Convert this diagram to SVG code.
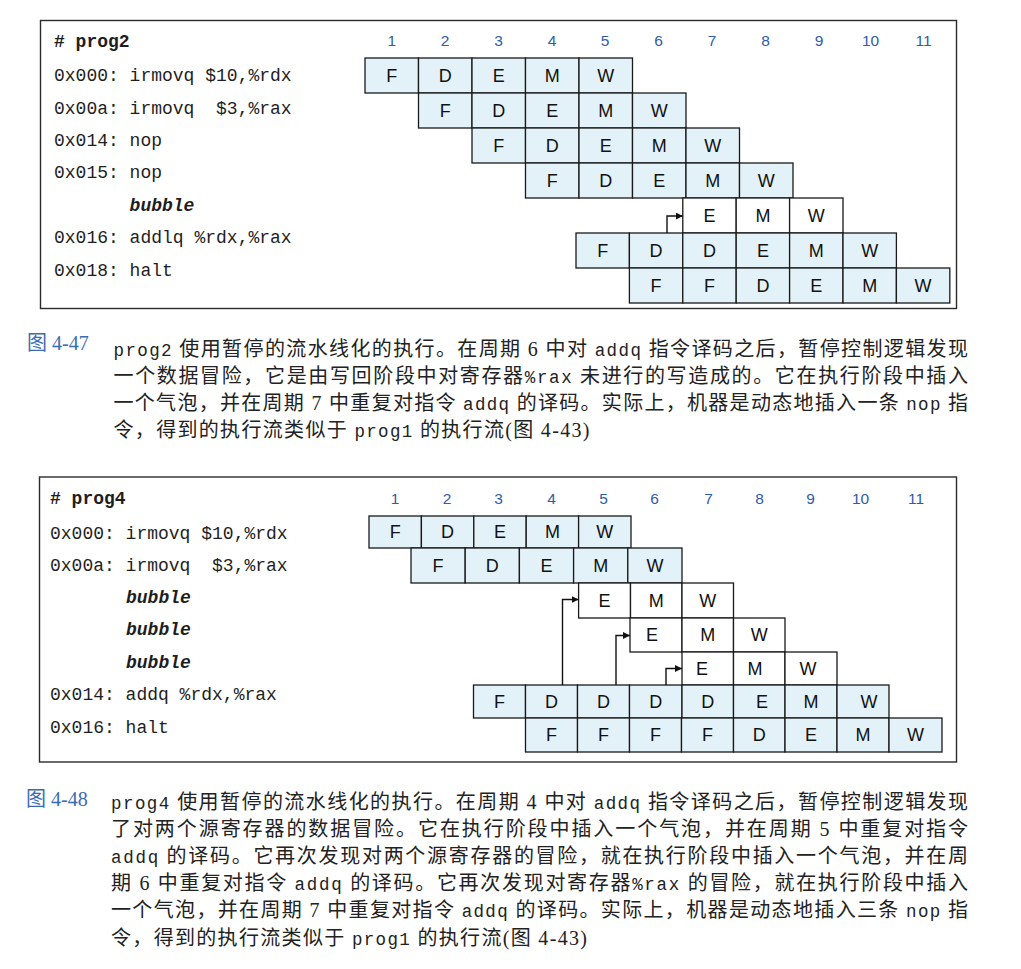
<svg xmlns="http://www.w3.org/2000/svg" width="1021" height="969" viewBox="0 0 1021 969">
<style>
.frame{fill:none;stroke:#2b2b2b;stroke-width:1.4}
.c{fill:#e3f1f8;stroke:#1a1a1a;stroke-width:1.3}
.b{fill:#ffffff;stroke:#1a1a1a;stroke-width:1.3}
.lt{font-family:"Liberation Sans",Arial,sans-serif;font-size:18px;fill:#111;text-anchor:middle}
.num{font-family:"Liberation Sans",Arial,sans-serif;font-size:15.5px;fill:#2f5ca8;text-anchor:middle}
.code{font-family:"Liberation Mono","DejaVu Sans Mono",monospace;font-size:18px;fill:#1e1e1e;white-space:pre}
.bold{font-weight:bold}
.bi{font-weight:bold;font-style:italic}
.cap{font-family:"Liberation Serif","Noto Sans CJK SC",serif;font-size:20px;fill:#222}
.m{font-family:"Liberation Mono","Noto Sans CJK SC",monospace;font-size:17.5px}
.lab{font-family:"Liberation Serif","Noto Sans CJK SC",serif;font-size:20px;fill:#3a6cb3}
.conn{fill:none;stroke:#111;stroke-width:1.4}
</style>
<defs>
<marker id="ah" markerUnits="userSpaceOnUse" markerWidth="8" markerHeight="7" refX="7" refY="3.5" orient="auto">
<path d="M0,0 L7,3.5 L0,7 z" fill="#111"/>
</marker>
</defs>
<rect width="1021" height="969" fill="#ffffff"/>

<!-- ============ Figure 4-47 ============ -->
<rect class="frame" x="40.5" y="20.5" width="916" height="288"/>
<g id="p2-code">
<text class="code bold" x="54" y="47"># prog2</text>
<text class="code" x="54" y="81">0x000: irmovq $10,%rdx</text>
<text class="code" x="54" y="113.5">0x00a: irmovq  $3,%rax</text>
<text class="code" x="54" y="146">0x014: nop</text>
<text class="code" x="54" y="178">0x015: nop</text>
<text class="code bi" x="129.6" y="210.5">bubble</text>
<text class="code" x="54" y="243">0x016: addlq %rdx,%rax</text>
<text class="code" x="54" y="275.5">0x018: halt</text>
</g>
<g id="p2-cycles">
<text class="num" x="391.7" y="46">1</text>
<text class="num" x="445" y="46">2</text>
<text class="num" x="498.5" y="46">3</text>
<text class="num" x="552" y="46">4</text>
<text class="num" x="605" y="46">5</text>
<text class="num" x="658.5" y="46">6</text>
<text class="num" x="712" y="46">7</text>
<text class="num" x="765.5" y="46">8</text>
<text class="num" x="819" y="46">9</text>
<text class="num" x="870.5" y="46">10</text>
<text class="num" x="923.5" y="46">11</text>
</g>
<g id="p2-r1">
<rect class="c" x="365" y="58" width="53.5" height="35"/><rect class="c" x="418.5" y="58" width="53.5" height="35"/><rect class="c" x="472" y="58" width="53.5" height="35"/><rect class="c" x="525.5" y="58" width="53.5" height="35"/><rect class="c" x="579" y="58" width="53.5" height="35"/>
<text class="lt" x="391.75" y="81.9">F</text><text class="lt" x="445.25" y="81.9">D</text><text class="lt" x="498.75" y="81.9">E</text><text class="lt" x="552.25" y="81.9">M</text><text class="lt" x="605.75" y="81.9">W</text>
</g>
<g id="p2-r2">
<rect class="c" x="418.5" y="93" width="53.5" height="35"/><rect class="c" x="472" y="93" width="53.5" height="35"/><rect class="c" x="525.5" y="93" width="53.5" height="35"/><rect class="c" x="579" y="93" width="53.5" height="35"/><rect class="c" x="632.5" y="93" width="53.5" height="35"/>
<text class="lt" x="445.25" y="116.9">F</text><text class="lt" x="498.75" y="116.9">D</text><text class="lt" x="552.25" y="116.9">E</text><text class="lt" x="605.75" y="116.9">M</text><text class="lt" x="659.25" y="116.9">W</text>
</g>
<g id="p2-r3">
<rect class="c" x="472" y="128" width="53.5" height="35"/><rect class="c" x="525.5" y="128" width="53.5" height="35"/><rect class="c" x="579" y="128" width="53.5" height="35"/><rect class="c" x="632.5" y="128" width="53.5" height="35"/><rect class="c" x="686" y="128" width="53.5" height="35"/>
<text class="lt" x="498.75" y="151.9">F</text><text class="lt" x="552.25" y="151.9">D</text><text class="lt" x="605.75" y="151.9">E</text><text class="lt" x="659.25" y="151.9">M</text><text class="lt" x="712.75" y="151.9">W</text>
</g>
<g id="p2-r4">
<rect class="c" x="525.5" y="163" width="53.5" height="35"/><rect class="c" x="579" y="163" width="53.5" height="35"/><rect class="c" x="632.5" y="163" width="53.5" height="35"/><rect class="c" x="686" y="163" width="53.5" height="35"/><rect class="c" x="739.5" y="163" width="53.5" height="35"/>
<text class="lt" x="552.25" y="186.9">F</text><text class="lt" x="605.75" y="186.9">D</text><text class="lt" x="659.25" y="186.9">E</text><text class="lt" x="712.75" y="186.9">M</text><text class="lt" x="766.25" y="186.9">W</text>
</g>
<g id="p2-bubble">
<rect class="b" x="682.8" y="198" width="53.4" height="35"/><rect class="b" x="736.2" y="198" width="53.4" height="35"/><rect class="b" x="789.6" y="198" width="53.4" height="35"/>
<text class="lt" x="709.5" y="221.9">E</text><text class="lt" x="762.9" y="221.9">M</text><text class="lt" x="816.3" y="221.9">W</text>
</g>
<g id="p2-addq">
<rect class="c" x="576" y="233" width="53.4" height="35"/><rect class="c" x="629.4" y="233" width="53.4" height="35"/><rect class="c" x="682.8" y="233" width="53.4" height="35"/><rect class="c" x="736.2" y="233" width="53.4" height="35"/><rect class="c" x="789.6" y="233" width="53.4" height="35"/><rect class="c" x="843" y="233" width="53.4" height="35"/>
<text class="lt" x="602.7" y="256.9">F</text><text class="lt" x="656.1" y="256.9">D</text><text class="lt" x="709.5" y="256.9">D</text><text class="lt" x="762.9" y="256.9">E</text><text class="lt" x="816.3" y="256.9">M</text><text class="lt" x="869.7" y="256.9">W</text>
</g>
<g id="p2-halt">
<rect class="c" x="629.4" y="268" width="53.4" height="35"/><rect class="c" x="682.8" y="268" width="53.4" height="35"/><rect class="c" x="736.2" y="268" width="53.4" height="35"/><rect class="c" x="789.6" y="268" width="53.4" height="35"/><rect class="c" x="843" y="268" width="53.4" height="35"/><rect class="c" x="896.4" y="268" width="53.4" height="35"/>
<text class="lt" x="656.1" y="291.9">F</text><text class="lt" x="709.5" y="291.9">F</text><text class="lt" x="762.9" y="291.9">D</text><text class="lt" x="816.3" y="291.9">E</text><text class="lt" x="869.7" y="291.9">M</text><text class="lt" x="923.1" y="291.9">W</text>
</g>

<!-- caption 4-47 -->
<g id="cap1">
<text class="lab" x="27" y="350">图 4-47</text>
<text class="cap" x="113.5" y="356" textLength="854.5" lengthAdjust="spacing"><tspan class="m">prog2</tspan> 使用暂停的流水线化的执行。在周期 6 中对 <tspan class="m">addq</tspan> 指令译码之后，暂停控制逻辑发现</text>
<text class="cap" x="113.5" y="383" textLength="854.5" lengthAdjust="spacing">一个数据冒险，它是由写回阶段中对寄存器<tspan class="m">%rax</tspan> 未进行的写造成的。它在执行阶段中插入</text>
<text class="cap" x="113.5" y="410" textLength="854.5" lengthAdjust="spacing">一个气泡，并在周期 7 中重复对指令 <tspan class="m">addq</tspan> 的译码。实际上，机器是动态地插入一条 <tspan class="m">nop</tspan> 指</text>
<text class="cap" x="113.5" y="437" textLength="476" lengthAdjust="spacing">令，得到的执行流类似于 <tspan class="m">prog1</tspan> 的执行流(图 4-43)</text>
</g>

<!-- ============ Figure 4-48 ============ -->
<rect class="frame" x="39.5" y="477" width="917" height="285"/>
<g id="p4-code">
<text class="code bold" x="50" y="503.5"># prog4</text>
<text class="code" x="50" y="538.5">0x000: irmovq $10,%rdx</text>
<text class="code" x="50" y="570.5">0x00a: irmovq  $3,%rax</text>
<text class="code bi" x="126" y="603">bubble</text>
<text class="code bi" x="126" y="635">bubble</text>
<text class="code bi" x="126" y="667.5">bubble</text>
<text class="code" x="50" y="700">0x014: addq %rdx,%rax</text>
<text class="code" x="50" y="732.5">0x016: halt</text>
</g>
<g id="p4-cycles">
<text class="num" x="395" y="503.5">1</text>
<text class="num" x="447" y="503.5">2</text>
<text class="num" x="498.5" y="503.5">3</text>
<text class="num" x="551.5" y="503.5">4</text>
<text class="num" x="603.5" y="503.5">5</text>
<text class="num" x="654.5" y="503.5">6</text>
<text class="num" x="708.5" y="503.5">7</text>
<text class="num" x="759.5" y="503.5">8</text>
<text class="num" x="810.5" y="503.5">9</text>
<text class="num" x="860.5" y="503.5">10</text>
<text class="num" x="916" y="503.5">11</text>
</g>
<g id="p4-r1">
<rect class="c" x="369" y="516" width="52.4" height="32"/><rect class="c" x="421.4" y="516" width="52.4" height="32"/><rect class="c" x="473.8" y="516" width="52.4" height="32"/><rect class="c" x="526.2" y="516" width="52.4" height="32"/><rect class="c" x="578.6" y="516" width="52.4" height="32"/>
<text class="lt" x="395.2" y="538.3">F</text><text class="lt" x="447.6" y="538.3">D</text><text class="lt" x="500" y="538.3">E</text><text class="lt" x="552.4" y="538.3">M</text><text class="lt" x="604.8" y="538.3">W</text>
</g>
<g id="p4-r2">
<rect class="c" x="411" y="548" width="54.2" height="35"/><rect class="c" x="465.2" y="548" width="54.2" height="35"/><rect class="c" x="519.4" y="548" width="54.2" height="35"/><rect class="c" x="573.6" y="548" width="54.2" height="35"/><rect class="c" x="627.8" y="548" width="54.2" height="35"/>
<text class="lt" x="438.1" y="571.9">F</text><text class="lt" x="492.3" y="571.9">D</text><text class="lt" x="546.5" y="571.9">E</text><text class="lt" x="600.7" y="571.9">M</text><text class="lt" x="654.9" y="571.9">W</text>
</g>
<g id="p4-bubble1">
<rect class="b" x="578.6" y="583" width="51.9" height="35"/><rect class="b" x="630.5" y="583" width="51.5" height="35"/><rect class="b" x="682" y="583" width="51.5" height="35"/>
<text class="lt" x="604.5" y="606.9">E</text><text class="lt" x="656.2" y="606.9">M</text><text class="lt" x="707.8" y="606.9">W</text>
</g>
<g id="p4-bubble2">
<rect class="b" x="630" y="618" width="52" height="34"/><rect class="b" x="682" y="618" width="51.5" height="34"/><rect class="b" x="733.5" y="618" width="51.5" height="34"/>
<text class="lt" x="652" y="641.4">E</text><text class="lt" x="707.8" y="641.4">M</text><text class="lt" x="759.3" y="641.4">W</text>
</g>
<g id="p4-bubble3">
<rect class="b" x="682" y="652" width="51.5" height="33"/><rect class="b" x="733.5" y="652" width="51.5" height="33"/><rect class="b" x="785" y="652" width="52" height="33"/>
<text class="lt" x="702" y="674.9">E</text><text class="lt" x="755" y="674.9">M</text><text class="lt" x="808" y="674.9">W</text>
</g>
<g id="p4-addq">
<rect class="c" x="473.5" y="685" width="52" height="33"/><rect class="c" x="525.5" y="685" width="52" height="33"/><rect class="c" x="577.5" y="685" width="52" height="33"/><rect class="c" x="629.5" y="685" width="52.5" height="33"/><rect class="c" x="682" y="685" width="51.5" height="33"/><rect class="c" x="733.5" y="685" width="51.5" height="33"/><rect class="c" x="785" y="685" width="52" height="33"/><rect class="c" x="837" y="685" width="52" height="33"/>
<text class="lt" x="499.5" y="707.9">F</text><text class="lt" x="551.5" y="707.9">D</text><text class="lt" x="603.5" y="707.9">D</text><text class="lt" x="655.7" y="707.9">D</text><text class="lt" x="707.8" y="707.9">D</text><text class="lt" x="762" y="707.9">E</text><text class="lt" x="811" y="707.9">M</text><text class="lt" x="869" y="707.9">W</text>
</g>
<g id="p4-halt">
<rect class="c" x="525.5" y="718" width="52" height="34"/><rect class="c" x="577.5" y="718" width="52" height="34"/><rect class="c" x="629.5" y="718" width="52" height="34"/><rect class="c" x="681.5" y="718" width="52" height="34"/><rect class="c" x="733.5" y="718" width="51.5" height="34"/><rect class="c" x="785" y="718" width="52" height="34"/><rect class="c" x="837" y="718" width="52" height="34"/><rect class="c" x="889" y="718" width="53" height="34"/>
<text class="lt" x="551.5" y="741.4">F</text><text class="lt" x="603.5" y="741.4">F</text><text class="lt" x="655.5" y="741.4">F</text><text class="lt" x="707.5" y="741.4">F</text><text class="lt" x="759.3" y="741.4">D</text><text class="lt" x="811" y="741.4">E</text><text class="lt" x="863" y="741.4">M</text><text class="lt" x="915.5" y="741.4">W</text>
</g>

<!-- connectors -->
<g id="connectors">
<path class="conn" d="M667 233 V216 H682.8" marker-end="url(#ah)"/>
<path class="conn" d="M562.5 685 V599.5 H578.6" marker-end="url(#ah)"/>
<path class="conn" d="M616 685 V635.5 H630" marker-end="url(#ah)"/>
<path class="conn" d="M666 685 V668.5 H682" marker-end="url(#ah)"/>
</g>

<!-- caption 4-48 -->
<g id="cap2">
<text class="lab" x="26" y="806">图 4-48</text>
<text class="cap" x="111" y="808.5" textLength="857" lengthAdjust="spacing"><tspan class="m">prog4</tspan> 使用暂停的流水线化的执行。在周期 4 中对 <tspan class="m">addq</tspan> 指令译码之后，暂停控制逻辑发现</text>
<text class="cap" x="111" y="835.7" textLength="857" lengthAdjust="spacing">了对两个源寄存器的数据冒险。它在执行阶段中插入一个气泡，并在周期 5 中重复对指令</text>
<text class="cap" x="111" y="862.9" textLength="857" lengthAdjust="spacing"><tspan class="m">addq</tspan> 的译码。它再次发现对两个源寄存器的冒险，就在执行阶段中插入一个气泡，并在周</text>
<text class="cap" x="111" y="890.1" textLength="857" lengthAdjust="spacing">期 6 中重复对指令 <tspan class="m">addq</tspan> 的译码。它再次发现对寄存器<tspan class="m">%rax</tspan> 的冒险，就在执行阶段中插入</text>
<text class="cap" x="111" y="917.3" textLength="857" lengthAdjust="spacing">一个气泡，并在周期 7 中重复对指令 <tspan class="m">addq</tspan> 的译码。实际上，机器是动态地插入三条 <tspan class="m">nop</tspan> 指</text>
<text class="cap" x="111" y="944.5" textLength="476" lengthAdjust="spacing">令，得到的执行流类似于 <tspan class="m">prog1</tspan> 的执行流(图 4-43)</text>
</g>
</svg>
